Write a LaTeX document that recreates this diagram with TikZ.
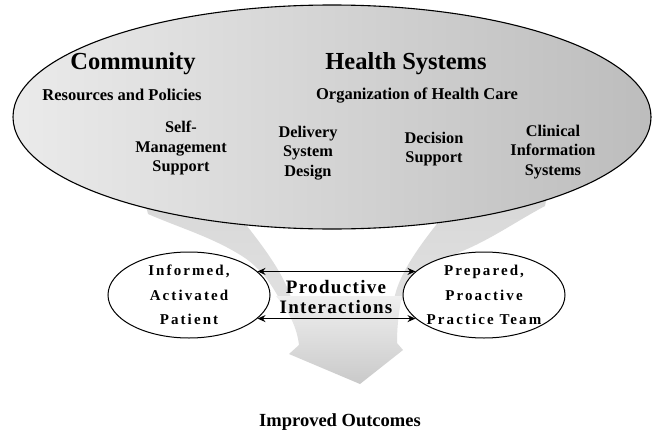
\documentclass[tikz,border=0pt]{standalone}
\usepackage{fontspec}
\setmainfont{Liberation Serif}
\usetikzlibrary{shapes.geometric,arrows.meta}
\begin{document}
\begin{tikzpicture}[x=1pt,y=-1pt,
  heading/.style={font=\fontsize{24.5}{28}\selectfont\bfseries},
  subheading/.style={font=\fontsize{16.5}{19}\selectfont\bfseries},
  element/.style={font=\fontsize{16.3}{19.8}\selectfont\bfseries, align=center},
  actor/.style={ellipse, draw, line width=1pt, fill=white, inner sep=0pt,
    minimum width=162, minimum height=86},
  actortext/.style={font=\fontsize{15}{24.5}\selectfont\bfseries\addfontfeatures{LetterSpace=14},
    align=center},
  link/.style={{Stealth[length=8pt,width=7pt]}-{Stealth[length=8pt,width=7pt]}, line width=1.5pt},
]
\useasboundingbox (0,0) rectangle (654,434);
\fill[white] (0,0) rectangle (654,434);

% funnel: two shaded walls and the lower spout
\shade[top color=gray!32, bottom color=gray!24]
  (140,180) -- (148,214) .. controls (180,228) and (215,238) .. (245,258)
  .. controls (262,270) and (272,285) .. (280,300) -- (292,300)
  .. controls (282,270) and (262,245) .. (236,212) -- (236,180) -- cycle;
\shade[top color=gray!32, bottom color=gray!24]
  (550,180) -- (545,206) .. controls (515,222) and (490,240) .. (460,252)
  .. controls (430,265) and (410,285) .. (402,300) -- (394,300)
  .. controls (398,275) and (420,245) .. (440,220) -- (440,180) -- cycle;
\shade[top color=gray!12, bottom color=gray!42]
  (276,296) .. controls (290,313) and (297,328) .. (299,345) -- (289,354) -- (360,384)
  -- (403,350) -- (397,343) .. controls (397,330) and (398,315) .. (402,296) -- cycle;

% the health system
\node[ellipse, draw, line width=1.1pt, left color=gray!16, right color=gray!52,
  minimum width=638, minimum height=224, inner sep=0pt] (sys) at (332,117) {};

\node[heading] (community) at (133,64) {Community};
\node[heading] (health) at (406,64) {Health Systems};
\node[subheading] (resources) at (122,95) {Resources and Policies};
\node[subheading] (org) at (417,96) {Organization of Health Care};

\node[element] (sms) at (181,148) {Self-\\Management\\Support};
\node[element] (dsd) at (308,153) {Delivery\\System\\Design};
\node[element] (ds) at (434,149) {Decision\\Support};
\node[element] (cis) at (553,152) {Clinical\\Information\\Systems};

% the two partners and their interactions
\node[actor] (patient) at (189,295) {};
\node[actortext] at (patient) {Informed,\\Activated\\Patient};
\node[actor] (team) at (484,295) {};
\node[actortext] at (team) {Prepared,\\Proactive\\Practice Team};

\node[font=\fontsize{19}{20}\selectfont\bfseries\addfontfeatures{LetterSpace=7}, align=center]
  (pi) at (336,297) {Productive\\Interactions};

\draw[link] (patient.19) -- (team.161);
\draw[link] (patient.-19) -- (team.-161);

\node[font=\fontsize{18.5}{22}\selectfont\bfseries] (outcomes) at (340,422) {Improved Outcomes};
\end{tikzpicture}
\end{document}
